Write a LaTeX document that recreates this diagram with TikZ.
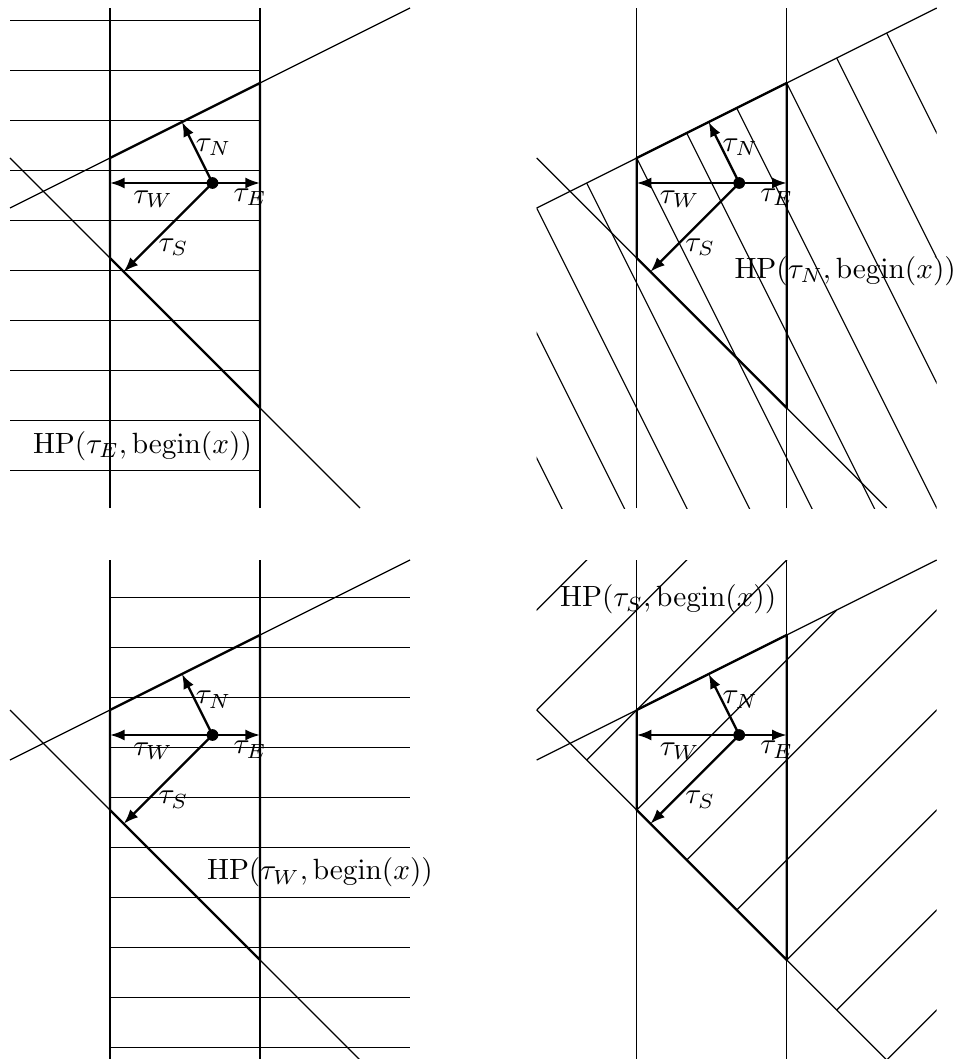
\documentclass[tikz,border=0pt]{standalone}
\usetikzlibrary{calc,arrows.meta}
\tikzset{
  thinline/.style={line width=0.4pt},
  hatchline/.style={line width=0.4pt},
  boundary/.style={line width=0.8pt, line join=round},
  vec/.style={line width=0.8pt, -{Latex[length=5pt,width=3.8pt]}},
  taulab/.style={inner sep=0pt},
  hplab/.style={inner sep=0pt},
}
% common content of one panel; #1 = name prefix
\newcommand{\panelcore}[1]{%
  \coordinate (#1d) at (4.05,6.5);
  \coordinate (#1nw) at (0,6);  \coordinate (#1ne) at (8,10);
  \coordinate (#1sw) at (0,7);  \coordinate (#1se) at (7,0);
  \coordinate (#1wl) at (2,0);  \coordinate (#1wh) at (2,10);
  \coordinate (#1el) at (5,0);  \coordinate (#1eh) at (5,10);
  \draw[thinline] (#1wl) -- (#1wh);
  \draw[thinline] (#1el) -- (#1eh);
  \draw[thinline] (#1nw) -- (#1ne);
  \draw[thinline] (#1sw) -- (#1se);
  \coordinate (#1p1) at (2,5);   \coordinate (#1p2) at (2,7);
  \coordinate (#1p3) at (5,8.5); \coordinate (#1p4) at (5,2);
  \draw[boundary] (#1p1) -- (#1p2) -- (#1p3) -- (#1p4) -- cycle;
  \coordinate (#1tE) at (5,6.5);
  \coordinate (#1tW) at (2,6.5);
  \coordinate (#1tN) at ($(#1nw)!(#1d)!(#1ne)$);
  \coordinate (#1tS) at ($(#1sw)!(#1d)!(#1se)$);
  \draw[vec] (#1d) -- (#1tE);
  \draw[vec] (#1d) -- (#1tW);
  \draw[vec] (#1d) -- (#1tN);
  \draw[vec] (#1d) -- (#1tS);
  \fill (#1d) circle (2pt);
  \node[taulab] (#1lN) at (4.07,7.21) {$\tau_N$};
  \node[taulab] (#1lW) at (2.86,6.18) {$\tau_W$};
  \node[taulab] (#1lE) at (4.80,6.21) {$\tau_E$};
  \node[taulab] (#1lS) at (3.27,5.21) {$\tau_S$};
}
\begin{document}
\begin{tikzpicture}[x=0.6cm,y=0.6cm]
\useasboundingbox (-0.2,-11.02) rectangle (18.98,10.16);

% ---------- top left: HP(tau_E) ----------
\begin{scope}
  \begin{scope}
    \clip (0,0) rectangle (8,10);
    \foreach \k in {0,...,9} {
      \draw[hatchline] (0,\k+0.75) -- (5,\k+0.75);
    }
  \end{scope}
  \panelcore{a}
  \node[hplab] (aHP) at (2.65,1.24) {$\mathrm{HP}(\tau_E, \mathrm{begin}(x))$};
\end{scope}

% ---------- top right: HP(tau_N) ----------
\begin{scope}[shift={(10.534,0)}]
  \begin{scope}
    \clip (0,0) rectangle (8,10);
    \foreach \k in {-3,...,8} {
      \draw[hatchline] (\k,6+\k/2) -- ++(6,-12);
    }
  \end{scope}
  \panelcore{b}
  \node[hplab] (bHP) at (6.17,4.74) {$\mathrm{HP}(\tau_N, \mathrm{begin}(x))$};
\end{scope}

% ---------- bottom left: HP(tau_W) ----------
\begin{scope}[shift={(0,-11.04)}]
  \begin{scope}
    \clip (0,0) rectangle (8,10);
    \foreach \k in {0,...,9} {
      \draw[hatchline] (2,\k+0.25) -- (8,\k+0.25);
    }
  \end{scope}
  \panelcore{c}
  \node[hplab] (cHP) at (6.2,3.75) {$\mathrm{HP}(\tau_W, \mathrm{begin}(x))$};
\end{scope}

% ---------- bottom right: HP(tau_S) ----------
\begin{scope}[shift={(10.534,-11.04)}]
  \begin{scope}
    \clip (0,0) rectangle (8,10);
    \foreach \k in {-2,-1,0,1,3,4,5,6,7,8} {
      \draw[hatchline] (\k,7-\k) -- ++(11,11);
    }
    \draw[hatchline] (2,5) -- (6,9);
  \end{scope}
  \panelcore{e}
  \node[hplab] (eHP) at (2.63,9.21) {$\mathrm{HP}(\tau_S, \mathrm{begin}(x))$};
\end{scope}
\end{tikzpicture}
\end{document}
